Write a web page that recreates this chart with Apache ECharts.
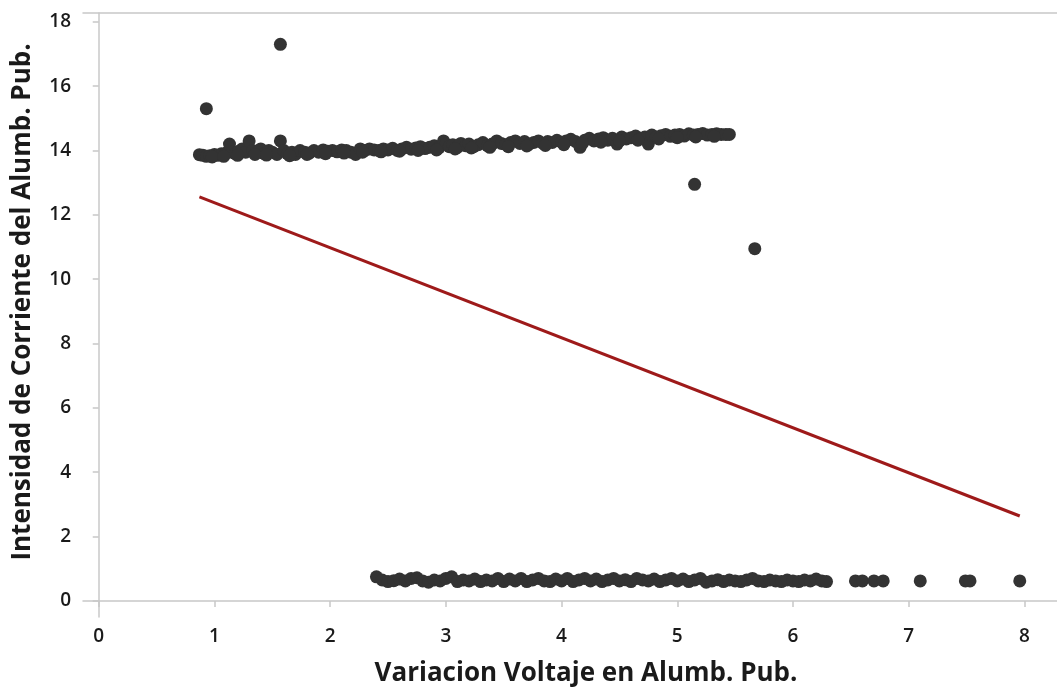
<!DOCTYPE html>
<html>
<head>
<meta charset="utf-8">
<script src="https://cdn.jsdelivr.net/npm/echarts@6/dist/echarts.min.js"></script>
<style>html,body{margin:0;padding:0;background:#fff;}#c{width:1057px;height:691px;}</style>
</head>
<body>
<div id="c"></div>
<script>
// Axis titles and ticks
const xTitle = 'Variacion Voltaje en Alumb. Pub.';
const yTitle = 'Intensidad de Corriente del Alumb. Pub.';
const xTicks = [0, 1, 2, 3, 4, 5, 6, 7, 8];
const yTicks = [0, 2, 4, 6, 8, 10, 12, 14, 16, 18];

// Upper cluster (x, y)
const upperX = [0.87,0.9,0.93,0.96,1.0,1.03,1.06,1.1,1.13,1.15,1.18,1.21,1.24,1.27,1.3,1.33,1.36,1.4,1.43,1.47,1.5,1.54,1.57,1.6,1.63,1.67,1.7,1.74,1.78,1.82,1.86,1.9,1.94,1.98,2.02,2.06,2.1,2.14,2.18,2.22,2.26,2.3,2.34,2.38,2.42,2.46,2.5,2.54,2.58,2.62,2.66,2.7,2.74,2.78,2.82,2.86,2.9,2.94,2.98,3.0,3.03,3.06,3.1,3.13,3.17,3.2,3.24,3.28,3.32,3.36,3.4,3.44,3.48,3.52,3.56,3.6,3.64,3.68,3.72,3.76,3.8,3.84,3.88,3.92,3.96,4.0,4.04,4.08,4.12,4.16,4.2,4.24,4.28,4.32,4.36,4.4,4.44,4.48,4.52,4.56,4.6,4.64,4.68,4.72,4.75,4.78,4.82,4.86,4.9,4.94,4.98,5.02,5.06,5.1,5.14,5.18,5.22,5.26,5.3,5.34,5.38,5.42,5.45];
const upperY = [13.87,13.85,13.82,13.84,13.88,13.85,13.9,13.92,14.2,13.95,13.9,13.98,14.05,13.95,14.3,14.0,13.92,14.05,13.9,14.0,13.95,13.88,14.3,14.0,13.9,13.95,13.88,14.0,13.95,13.92,14.0,13.95,14.02,13.98,14.0,13.96,14.02,14.0,13.95,13.88,14.05,14.0,14.05,14.02,14.0,14.05,14.02,14.07,14.0,14.05,14.1,14.04,14.08,14.12,14.06,14.1,14.15,14.08,14.3,14.2,14.12,14.18,14.1,14.22,14.15,14.2,14.12,14.18,14.25,14.15,14.2,14.3,14.22,14.18,14.25,14.3,14.22,14.28,14.2,14.25,14.3,14.22,14.28,14.25,14.32,14.26,14.3,14.35,14.28,14.1,14.32,14.38,14.3,14.36,14.4,14.32,14.38,14.2,14.42,14.36,14.4,14.45,14.38,14.42,14.2,14.48,14.42,14.46,14.5,14.44,14.48,14.5,14.45,14.52,14.48,14.5,14.53,14.48,14.5,14.52,14.5,14.5,14.5];
// Extra upper-cluster readings (thickening the band)
const upper2X = [0.98,1.08,1.2,1.35,1.45,1.65,1.8,1.96,2.12,2.28,2.44,2.6,2.76,2.92,3.08,3.22,3.38,3.54,3.7,3.86,4.02,4.18,4.34,4.5,4.66,4.84,5.0,5.16,5.32];
const upper2Y = [13.8,13.82,13.85,13.88,13.86,13.84,13.88,13.9,13.92,13.95,13.96,13.98,14.0,14.02,14.05,14.08,14.1,14.12,14.14,14.16,14.18,14.22,14.26,14.3,14.32,14.36,14.4,14.42,14.44];

// Lower cluster (x, y)
const lowerX = [2.4,2.45,2.5,2.55,2.6,2.65,2.7,2.75,2.8,2.85,2.9,2.95,3.0,3.05,3.1,3.15,3.2,3.25,3.3,3.35,3.4,3.45,3.5,3.55,3.6,3.65,3.7,3.75,3.8,3.85,3.9,3.95,4.0,4.05,4.1,4.15,4.2,4.25,4.3,4.35,4.4,4.45,4.5,4.55,4.6,4.65,4.7,4.75,4.8,4.85,4.9,4.95,5.0,5.05,5.1,5.15,5.2,5.25,5.3,5.35,5.4,5.45,5.5,5.55,5.6,5.65,5.7,5.75,5.8,5.85,5.9,5.95,6.0,6.05,6.1,6.15,6.2,6.25,6.29,6.54,6.6,6.7,6.78,7.1,7.49,7.53,7.96];
const lowerY = [0.75,0.65,0.6,0.63,0.68,0.62,0.7,0.72,0.62,0.58,0.65,0.62,0.7,0.75,0.6,0.65,0.62,0.68,0.6,0.65,0.62,0.7,0.6,0.68,0.62,0.7,0.6,0.65,0.7,0.62,0.6,0.68,0.62,0.7,0.6,0.65,0.7,0.62,0.68,0.6,0.65,0.7,0.62,0.66,0.6,0.7,0.65,0.62,0.68,0.6,0.65,0.7,0.62,0.68,0.6,0.65,0.7,0.58,0.62,0.66,0.6,0.65,0.62,0.6,0.65,0.7,0.62,0.6,0.65,0.62,0.6,0.65,0.62,0.6,0.65,0.62,0.68,0.62,0.6,0.62,0.62,0.62,0.62,0.62,0.62,0.62,0.62];

// Outliers
const outlierX = [0.93, 1.57, 5.15, 5.67];
const outlierY = [15.3, 17.3, 12.95, 10.95];

// Fitted regression line endpoints
const fitX = [0.87, 7.96];
const fitY = [12.56, 2.64];

const zip = (a, b) => a.map((v, i) => [v, b[i]]);
const points = zip(upperX, upperY).concat(zip(upper2X, upper2Y), zip(lowerX, lowerY), zip(outlierX, outlierY));

const FONT = 'Open Sans';
const AX = '#c8c8c8';
const chart = echarts.init(document.getElementById('c'), null, {renderer: 'canvas'});
chart.setOption({
  animation: false,
  backgroundColor: '#ffffff',
  grid: {left: 83, top: 13, right: 0, bottom: 74, show: false},
  xAxis: [{
    type: 'value', min: -0.136, max: 8.282, position: 'bottom',
    axisLine: {show: true, lineStyle: {color: AX, width: 1.5}},
    axisTick: {show: true, length: 6, lineStyle: {color: AX, width: 1.5}, customValues: xTicks},
    axisLabel: {customValues: xTicks, margin: 10, color: '#1a1a1a', fontSize: 19, fontFamily: FONT, fontWeight: 600},
    splitLine: {show: false}
  }, {
    type: 'value', min: -0.136, max: 8.282, position: 'top',
    axisLine: {show: true, lineStyle: {color: AX, width: 1.5}},
    axisTick: {show: false}, axisLabel: {show: false}, splitLine: {show: false}
  }],
  yAxis: {
    type: 'value', min: -0.5, max: 18.275,
    axisLine: {show: true, lineStyle: {color: AX, width: 1.5}},
    axisTick: {show: true, length: 6, lineStyle: {color: AX, width: 1.5}, customValues: yTicks},
    axisLabel: {customValues: yTicks, margin: 12, color: '#1a1a1a', fontSize: 19, fontFamily: FONT, fontWeight: 600},
    splitLine: {show: false}
  },
  graphic: [
    {type: 'text', x: 586, y: 674, style: {text: xTitle, font: 'bold 26px "Open Sans"', fill: '#1a1a1a', textAlign: 'center', textVerticalAlign: 'middle'}},
    {type: 'text', x: 23, y: 302, rotation: Math.PI / 2, style: {text: yTitle, font: 'bold 26px "Open Sans"', fill: '#1a1a1a', textAlign: 'center', textVerticalAlign: 'middle'}}
  ],
  series: [
    {type: 'scatter', data: points, symbol: 'circle', symbolSize: 13, itemStyle: {color: '#333333', opacity: 1}, z: 2},
    {type: 'line', data: zip(fitX, fitY), symbol: 'none', lineStyle: {color: '#9e1a1a', width: 3}, z: 3}
  ]
});
</script>
</body>
</html>
